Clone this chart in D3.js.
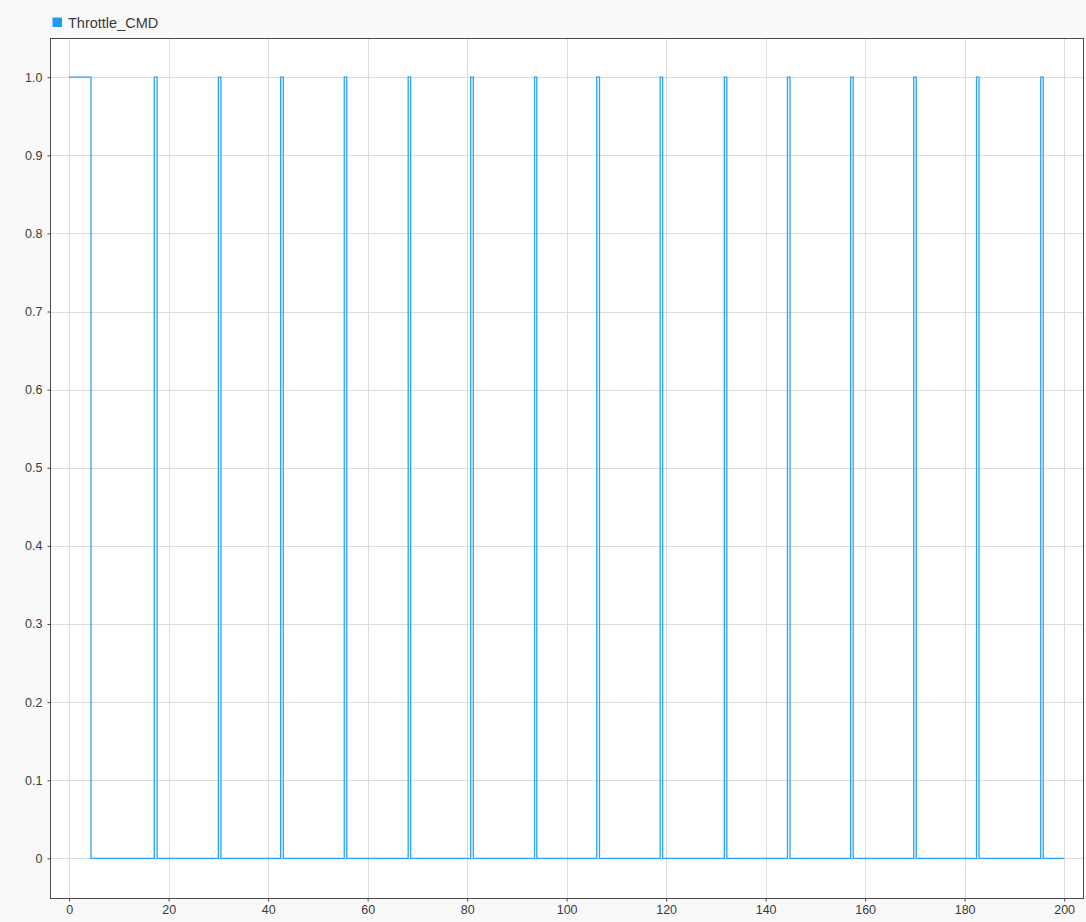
<!DOCTYPE html>
<html>
<head>
<meta charset="utf-8">
<script src="https://cdn.jsdelivr.net/npm/d3@7"></script>
<style>
    body { margin: 0; background: #f9f9f9; }
    svg { display: block; font-family: "Liberation Sans", Arial, sans-serif; }
</style>
</head>
<body>
<div id="frame-throttle"></div>
<script>
// CHART VARIABLES
const width = 1086;
const height = 922;

// data: throttle command switches on / off (seconds)
const seriesName = "Throttle_CMD";
const onTimes  = [0, 17.12, 30.0, 42.52, 55.3, 68.15, 80.72, 93.55, 106.05, 118.8, 131.7, 144.39, 157.1, 169.78, 182.4, 195.3];
const offTimes = [4.4, 17.68, 30.5, 43.04, 55.8, 68.65, 81.24, 94.0, 106.6, 119.3, 132.2, 144.9, 157.6, 170.28, 182.9, 195.8];
const onValue = 1;
const offValue = 0;
const endTime = 200;

// ticks
const xTicks = [0, 20, 40, 60, 80, 100, 120, 140, 160, 180, 200];
const yTicks = [0, 0.1, 0.2, 0.3, 0.4, 0.5, 0.6, 0.7, 0.8, 0.9, 1.0];
const yTickLabels = ["0", "0.1", "0.2", "0.3", "0.4", "0.5", "0.6", "0.7", "0.8", "0.9", "1.0"];

// plot box
const plotLeft = 50.5;
const plotTop = 38.5;
const plotRight = 1083.5;
const plotBottom = 898.5;

// colors
const lineColor = "#2aa2f7";
const legendColor = "#1c9bf7";
const gridColor = "#dcdcdc";
const frameColor = "#4a4a4a";
const textColor = "#3a3a3a";

// step points built from switch times
let points = [];
onTimes.forEach((t, i) => {
    points.push({ t: t, v: onValue });
    points.push({ t: offTimes[i], v: offValue });
});
points.push({ t: endTime, v: offValue });

const x = d3.scaleLinear()
    .domain([-3.75, 203.9])
    .range([plotLeft, plotRight]);

const y = d3.scaleLinear()
    .domain([-0.0514, 1.0495])
    .range([plotBottom, plotTop]);

// define svg
const svg = d3.select("#frame-throttle")
    .append("svg")
        .attr("width", width)
        .attr("height", height)
        .attr("viewBox", [0, 0, width, height]);

svg.append("rect")
    .attr("width", width)
    .attr("height", height)
    .attr("fill", "#f9f9f9");

// plot background
svg.append("rect")
    .attr("x", plotLeft)
    .attr("y", plotTop)
    .attr("width", plotRight - plotLeft)
    .attr("height", plotBottom - plotTop)
    .attr("fill", "#ffffff");

// grid
svg.append("g")
        .attr("class", "grid-x")
    .selectAll("line")
    .data(xTicks)
    .enter()
    .append("line")
        .attr("x1", d => Math.round(x(d)) + 0.5)
        .attr("x2", d => Math.round(x(d)) + 0.5)
        .attr("y1", plotTop)
        .attr("y2", plotBottom)
        .attr("stroke", gridColor)
        .attr("stroke-width", 1);

svg.append("g")
        .attr("class", "grid-y")
    .selectAll("line")
    .data(yTicks)
    .enter()
    .append("line")
        .attr("x1", plotLeft)
        .attr("x2", plotRight)
        .attr("y1", d => Math.round(y(d)) + 0.5)
        .attr("y2", d => Math.round(y(d)) + 0.5)
        .attr("stroke", gridColor)
        .attr("stroke-width", 1);

// signal
const line = d3.line()
    .x(d => x(d.t))
    .y(d => y(d.v))
    .curve(d3.curveStepAfter);

svg.append("path")
    .datum(points)
    .attr("fill", "none")
    .attr("stroke", lineColor)
    .attr("stroke-width", 1.3)
    .attr("d", line);

// axes
const xAxis = d3.axisBottom(x)
    .tickValues(xTicks)
    .tickSize(3)
    .tickPadding(4)
    .tickFormat(d3.format("d"));

const yAxis = d3.axisLeft(y)
    .tickValues(yTicks)
    .tickSize(3)
    .tickPadding(5)
    .tickFormat((d, i) => yTickLabels[i]);

const gx = svg.append("g")
    .attr("transform", "translate(0," + plotBottom + ")")
    .call(xAxis);

const gy = svg.append("g")
    .attr("transform", "translate(" + plotLeft + ",0)")
    .call(yAxis);

[gx, gy].forEach(g => {
    g.select(".domain").remove();
    g.selectAll(".tick line").attr("stroke", frameColor);
    g.selectAll(".tick text")
        .attr("fill", textColor)
        .style("font-size", "12.5px")
        .style("font-family", "'Liberation Sans', Arial, sans-serif");
});

// frame
svg.append("rect")
    .attr("x", plotLeft)
    .attr("y", plotTop)
    .attr("width", plotRight - plotLeft)
    .attr("height", plotBottom - plotTop)
    .attr("fill", "none")
    .attr("stroke", frameColor)
    .attr("stroke-width", 1);

// legend
svg.append("rect")
    .attr("x", 52.5)
    .attr("y", 17.5)
    .attr("width", 9.5)
    .attr("height", 9.5)
    .attr("fill", legendColor);

svg.append("text")
    .attr("x", 68)
    .attr("y", 27.5)
    .attr("fill", textColor)
    .style("font-size", "14.5px")
    .text(seriesName);
</script>
</body>
</html>
